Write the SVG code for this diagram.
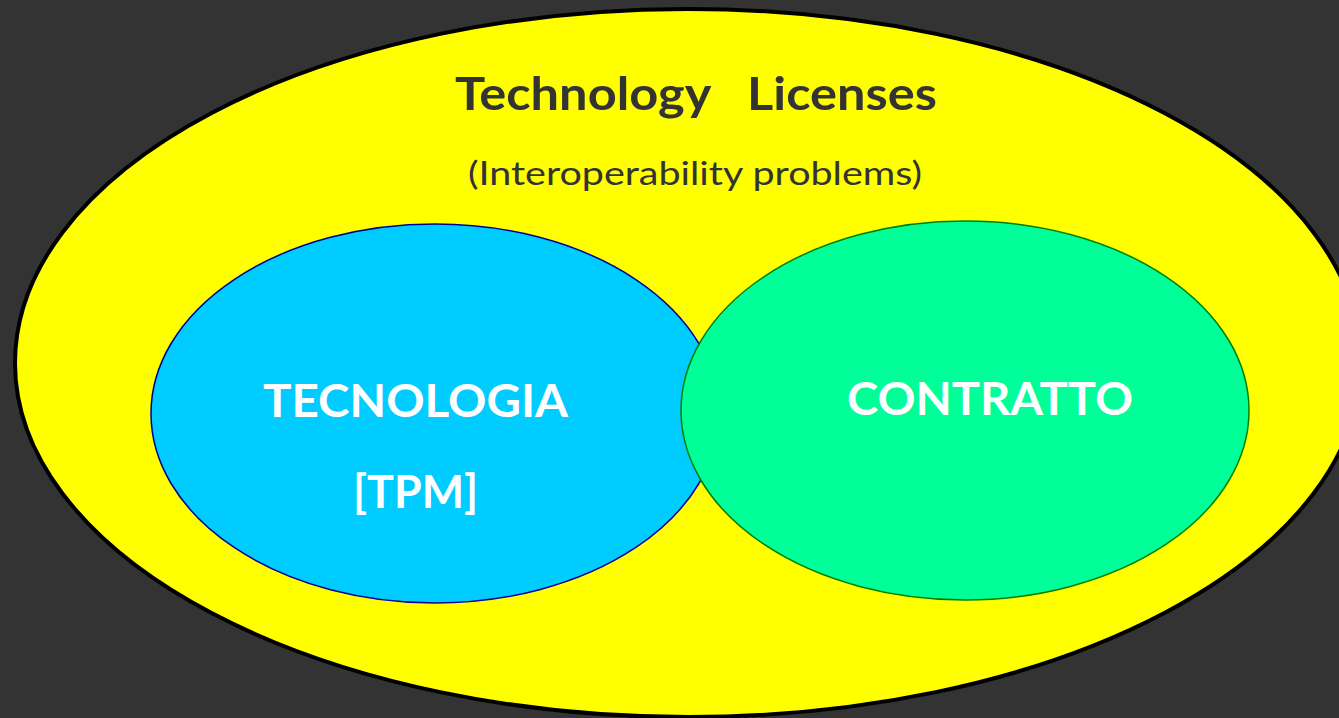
<svg xmlns="http://www.w3.org/2000/svg" width="1339" height="718" viewBox="0 0 1339 718">
<style>
.t{font-family:"Lato","Noto Sans","Liberation Sans",sans-serif;}
.dark{fill:#333333;}
.lbl{fill:#ffffff;font-weight:bold;font-size:46px;}
</style>
<rect width="1339" height="718" fill="#333333"/>
<g id="outer">
<ellipse cx="688" cy="363" rx="673" ry="354" fill="#ffff00" stroke="#000000" stroke-width="4"/>
<text class="t dark" x="455" y="110" font-size="46" font-weight="bold" xml:space="preserve" textLength="482" lengthAdjust="spacingAndGlyphs">Technology   Licenses</text>
<text class="t dark" x="468" y="185" font-size="33" textLength="454" lengthAdjust="spacingAndGlyphs">(Interoperability problems)</text>
</g>
<g id="tecnologia">
<ellipse cx="435" cy="413.5" rx="284" ry="189.5" fill="#00ccff" stroke="#000099" stroke-width="1.5"/>
<text class="t lbl" x="263" y="417" textLength="305" lengthAdjust="spacingAndGlyphs">TECNOLOGIA</text>
<text class="t lbl" x="353" y="508" textLength="125" lengthAdjust="spacingAndGlyphs">[TPM]</text>
</g>
<g id="contratto">
<ellipse cx="965" cy="410.5" rx="284" ry="189.5" fill="#00ff99" stroke="#008000" stroke-width="1.5"/>
<text class="t lbl" x="847" y="415" textLength="286" lengthAdjust="spacingAndGlyphs">CONTRATTO</text>
</g>
<g id="connectors"/>
</svg>
